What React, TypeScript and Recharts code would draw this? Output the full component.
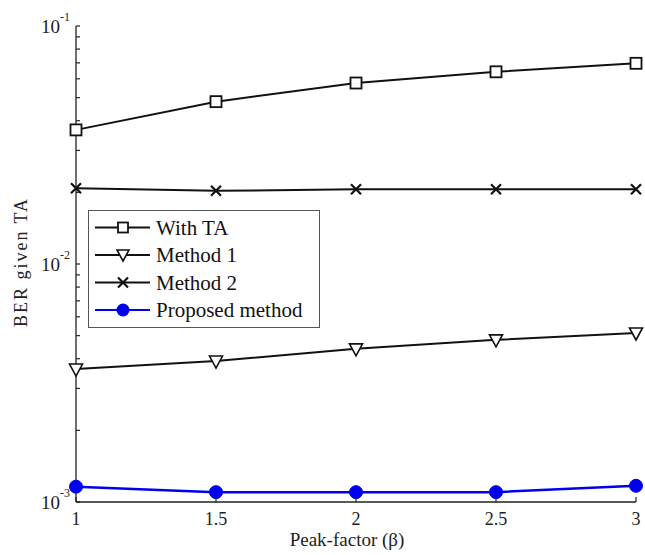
import React from "react";
import { LineChart, Line, XAxis, YAxis } from "recharts";

const peakFactor = [1, 1.5, 2, 2.5, 3];
const withTA = [0.0366, 0.0481, 0.0576, 0.0642, 0.0697];
const method1 = [0.00362, 0.00391, 0.0044, 0.0048, 0.00513];
const method2 = [0.0208, 0.0203, 0.0206, 0.0206, 0.0206];
const proposed = [0.00116, 0.0011, 0.0011, 0.0011, 0.00117];

const yMajorTicks = [0.001, 0.01, 0.1];
const yMinorMultipliers = [2, 3, 4, 5, 6, 7, 8, 9];
const xTicks = [1, 1.5, 2, 2.5, 3];

const seriesNames = ["With TA", "Method 1", "Method 2", "Proposed method"];

const data = peakFactor.map((x, i) => ({
  x,
  withTA: withTA[i],
  method1: method1[i],
  method2: method2[i],
  proposed: proposed[i],
}));

const yTicks: number[] = [];
yMajorTicks.forEach((m, i) => {
  yTicks.push(m);
  if (i < yMajorTicks.length - 1) {
    yMinorMultipliers.forEach((k) => yTicks.push(Number((m * k).toPrecision(3))));
  }
});

const FONT = "'Liberation Serif', 'Times New Roman', serif";
const AX = "#222";
const LINE = "#111";
const BLUE = "#0000f0";

const isMajor = (v: number) => yMajorTicks.some((m) => Math.abs(m - v) / m < 1e-6);

const YTickLeft = (props: any) => {
  const { x, y, payload } = props;
  const v = payload.value;
  const major = isMajor(v);
  const exp = Math.round(Math.log10(v));
  return (
    <g>
      <line x1={x} x2={x + 4} y1={y} y2={y} stroke={AX} strokeWidth={1.2} />
      {major && (
        <text x={x - 16} y={y + 7} textAnchor="end" fontFamily={FONT} fontSize={19} fill="#222">
          10
        </text>
      )}
      {major && (
        <text x={x - 16} y={y - 5} textAnchor="start" fontFamily={FONT} fontSize={12} fill="#222">
          {String(exp)}
        </text>
      )}
    </g>
  );
};

const YTickRight = (props: any) => {
  const { x, y } = props;
  return <line x1={x} x2={x - 4} y1={y} y2={y} stroke={AX} strokeWidth={1.2} />;
};

const XTickBottom = (props: any) => {
  const { x, y, payload } = props;
  return (
    <g>
      <line x1={x} x2={x} y1={y} y2={y - 5} stroke={AX} strokeWidth={1.2} />
      <text x={x} y={y + 23} textAnchor="middle" fontFamily={FONT} fontSize={18} fill="#222">
        {String(payload.value)}
      </text>
    </g>
  );
};

const XTickTop = (props: any) => {
  const { x, y } = props;
  return <line x1={x} x2={x} y1={y} y2={y + 5} stroke={AX} strokeWidth={1.2} />;
};

const SquareDot = (props: any) => {
  const { cx, cy } = props;
  if (cx == null || cy == null) return null;
  return <rect x={cx - 5.5} y={cy - 5.5} width={11} height={11} fill="white" stroke={LINE} strokeWidth={1.8} />;
};
const TriDot = (props: any) => {
  const { cx, cy } = props;
  if (cx == null || cy == null) return null;
  return (
    <path
      d={`M${cx - 6.5},${cy - 5} L${cx + 6.5},${cy - 5} L${cx},${cy + 7} Z`}
      fill="white"
      stroke={LINE}
      strokeWidth={1.6}
    />
  );
};
const XDot = (props: any) => {
  const { cx, cy } = props;
  if (cx == null || cy == null) return null;
  return (
    <path
      d={`M${cx - 5},${cy - 5} L${cx + 5},${cy + 5} M${cx - 5},${cy + 5} L${cx + 5},${cy - 5}`}
      stroke={LINE}
      strokeWidth={2.2}
    />
  );
};
const CircleDot = (props: any) => {
  const { cx, cy } = props;
  if (cx == null || cy == null) return null;
  return <circle cx={cx} cy={cy} r={6.5} fill={BLUE} stroke={BLUE} />;
};

const legendIcons = [
  (cx: number, cy: number) => <rect x={cx - 5} y={cy - 5} width={10} height={10} fill="white" stroke={LINE} strokeWidth={1.8} />,
  (cx: number, cy: number) => (
    <path d={`M${cx - 6},${cy - 5} L${cx + 6},${cy - 5} L${cx},${cy + 6} Z`} fill="white" stroke={LINE} strokeWidth={1.6} />
  ),
  (cx: number, cy: number) => (
    <path d={`M${cx - 5},${cy - 5} L${cx + 5},${cy + 5} M${cx - 5},${cy + 5} L${cx + 5},${cy - 5}`} stroke={LINE} strokeWidth={2.2} />
  ),
  (cx: number, cy: number) => <circle cx={cx} cy={cy} r={6.5} fill={BLUE} />,
];
const legendColors = [LINE, LINE, LINE, BLUE];

const LegendBox = () => (
  <div
    style={{
      position: "absolute",
      left: 88,
      top: 210,
      width: 232,
      height: 118,
      border: "1.5px solid #555",
      background: "white",
      boxSizing: "border-box",
    }}
  >
    <svg width={230} height={116} style={{ position: "absolute", left: 0, top: 0 }}>
      {seriesNames.map((name, i) => {
        const cy = 16.5 + i * 27.5;
        return (
          <g key={name}>
            <line x1={6} x2={61} y1={cy} y2={cy} stroke={legendColors[i]} strokeWidth={2} />
            {legendIcons[i](34, cy)}
            <text x={67} y={cy + 7} fontFamily={FONT} fontSize={21} fill="#111">
              {name}
            </text>
          </g>
        );
      })}
    </svg>
  </div>
);

export default function App() {
  return (
    <div style={{ position: "absolute", left: 0, top: 0, width: 645, height: 555, background: "white" }}>
      <LineChart
        width={645}
        height={555}
        data={data}
        margin={{ top: 26, right: 9, bottom: 23, left: 16 }}
      >
        <XAxis
          xAxisId="b"
          dataKey="x"
          type="number"
          domain={[1, 3]}
          ticks={xTicks}
          interval={0}
          tick={<XTickBottom />}
          tickLine={false}
          tickSize={0}
          tickMargin={0}
          height={30}
          axisLine={{ stroke: AX, strokeWidth: 1.3 }}
        />
        <XAxis
          xAxisId="t"
          orientation="top"
          dataKey="x"
          type="number"
          domain={[1, 3]}
          ticks={xTicks}
          interval={0}
          tick={<XTickTop />}
          tickLine={false}
          tickSize={0}
          tickMargin={0}
          height={0}
          axisLine={{ stroke: AX, strokeWidth: 1.3 }}
        />
        <YAxis
          yAxisId="l"
          scale="log"
          type="number"
          domain={[0.001, 0.1]}
          ticks={yTicks}
          interval={0}
          tick={<YTickLeft />}
          tickLine={false}
          tickSize={0}
          tickMargin={0}
          width={60}
          axisLine={{ stroke: AX, strokeWidth: 1.3 }}
        />
        <YAxis
          yAxisId="r"
          orientation="right"
          scale="log"
          type="number"
          domain={[0.001, 0.1]}
          ticks={yTicks}
          interval={0}
          tick={<YTickRight />}
          tickLine={false}
          tickSize={0}
          tickMargin={0}
          width={0}
          axisLine={{ stroke: AX, strokeWidth: 1.3 }}
        />
        <Line xAxisId="b" yAxisId="l" dataKey="withTA" name="With TA" stroke={LINE} strokeWidth={2} dot={<SquareDot />} isAnimationActive={false} />
        <Line xAxisId="b" yAxisId="l" dataKey="method1" name="Method 1" stroke={LINE} strokeWidth={2} dot={<TriDot />} isAnimationActive={false} />
        <Line xAxisId="b" yAxisId="l" dataKey="method2" name="Method 2" stroke={LINE} strokeWidth={2} dot={<XDot />} isAnimationActive={false} />
        <Line xAxisId="b" yAxisId="l" dataKey="proposed" name="Proposed method" stroke={BLUE} strokeWidth={2.5} dot={<CircleDot />} isAnimationActive={false} />
      </LineChart>
      <LegendBox />
      <div
        style={{
          position: "absolute",
          left: 21,
          top: 262,
          transform: "translate(-50%, -50%) rotate(-90deg)",
          fontFamily: FONT,
          fontSize: 18,
          letterSpacing: 2,
          color: "#222",
          whiteSpace: "nowrap",
        }}
      >
        BER given TA
      </div>
      <div
        style={{
          position: "absolute",
          left: 347,
          top: 540,
          transform: "translate(-50%, -50%)",
          fontFamily: FONT,
          fontSize: 19,
          color: "#222",
          whiteSpace: "nowrap",
        }}
      >
        Peak-factor (β)
      </div>
    </div>
  );
}
